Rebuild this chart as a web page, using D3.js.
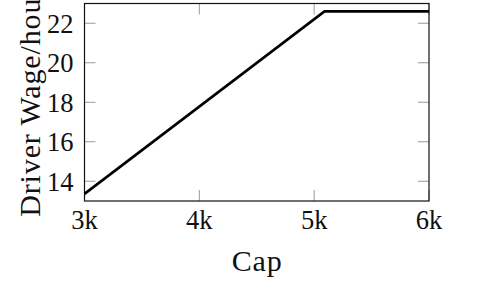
<!DOCTYPE html>
<html lang="en">
<head>
  <meta charset="UTF-8">
  <title>Driver Wage vs Cap</title>
  <script src="https://d3js.org/d3.v7.min.js"></script>
  <style>
    body { margin: 0; background: #fff; }
    svg { display: block; }
    text { font-family: "Liberation Serif", "DejaVu Serif", serif; fill: #111; }
  </style>
</head>
<body>
  <svg width="479" height="281"></svg>

  <script>
    // data
    const capValues = [3000, 5090, 6000];
    const wageValues = [13.36, 22.6, 22.6];
    const xTickValues = [3000, 4000, 5000, 6000];
    const yTickValues = [14, 16, 18, 20, 22];

    const margin = { top: 3.5, right: 50, bottom: 80, left: 84.5 };
    const width = 479 - margin.left - margin.right;
    const height = 281 - margin.top - margin.bottom;

    const svg = d3.select("svg");
    const g = svg.append("g")
      .attr("transform", `translate(${margin.left},${margin.top})`);

    const x = d3.scaleLinear().domain([3000, 6000]).range([0, width]);
    const y = d3.scaleLinear().domain([13, 23]).range([height, 0]);

    const tickLen = 11;

    // ticks on all four sides, pointing inward
    xTickValues.forEach(v => {
      g.append("line").attr("x1", x(v)).attr("x2", x(v))
        .attr("y1", height).attr("y2", height - tickLen)
        .attr("stroke", "#999").attr("stroke-width", 1);
      g.append("line").attr("x1", x(v)).attr("x2", x(v))
        .attr("y1", 0).attr("y2", tickLen)
        .attr("stroke", "#999").attr("stroke-width", 1);
      g.append("text")
        .attr("x", x(v))
        .attr("y", height + 28)
        .attr("text-anchor", "middle")
        .style("font-size", "26.5px")
        .text(v / 1000 + "k");
    });

    yTickValues.forEach(v => {
      g.append("line").attr("x1", 0).attr("x2", tickLen)
        .attr("y1", y(v)).attr("y2", y(v))
        .attr("stroke", "#999").attr("stroke-width", 1);
      g.append("line").attr("x1", width).attr("x2", width - tickLen)
        .attr("y1", y(v)).attr("y2", y(v))
        .attr("stroke", "#999").attr("stroke-width", 1);
      g.append("text")
        .attr("x", -11)
        .attr("y", y(v))
        .attr("dy", "0.35em")
        .attr("text-anchor", "end")
        .style("font-size", "26.5px")
        .text(v);
    });

    // frame
    g.append("rect")
      .attr("width", width).attr("height", height)
      .attr("fill", "none").attr("stroke", "#111").attr("stroke-width", 1.2);

    // the line
    const line = d3.line()
      .x((d, i) => x(capValues[i]))
      .y(d => y(d));

    g.append("path")
      .datum(wageValues)
      .attr("fill", "none")
      .attr("stroke", "#000")
      .attr("stroke-width", 2.6)
      .attr("stroke-linejoin", "round")
      .attr("d", line);

    // labels
    g.append("text")
      .attr("x", width / 2)
      .attr("y", height + 70)
      .attr("text-anchor", "middle")
      .style("font-size", "30px")
      .attr("textLength", 50)
      .text("Cap");

    g.append("text")
      .attr("transform", "rotate(-90)")
      .attr("x", -height / 2)
      .attr("y", -45)
      .attr("text-anchor", "middle")
      .style("font-size", "30px")
      .attr("textLength", 229)
      .text("Driver Wage/hour");
  </script>
</body>
</html>
